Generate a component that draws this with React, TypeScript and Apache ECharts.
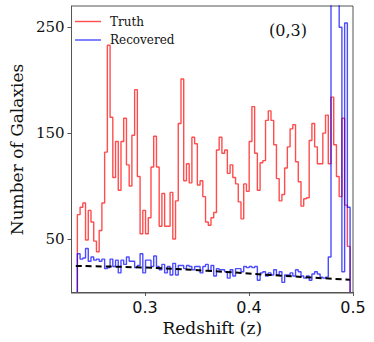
import React, { useEffect, useRef } from "react";
import * as echarts from "echarts";

const binStart = 0.235;
const binWidth = 0.002622;

const truthCounts = [
  73, 80, 84, 49, 77, 66, 48, 38, 58, 84,
  132, 233, 165, 108, 142, 96, 142, 164, 120, 100,
  148, 191, 109, 55, 77, 55, 70, 118, 147, 118,
  62, 93, 62, 62, 94, 50, 86, 159, 201, 105,
  121, 103, 146, 140, 101, 105, 90, 66, 63, 70,
  75, 134, 146, 131, 134, 112, 120, 108, 102, 85,
  69, 102, 95, 142, 175, 131, 96, 122, 124, 162,
  171, 162, 139, 107, 86, 92, 117, 137, 154, 158,
  123, 104, 81, 88, 89, 143, 159, 137, 121, 121,
  150, 167, 121, 184, 139, 109, 90, 164, 82, 43,
];

const recoveredCounts = [
  36, 31, 32, 41, 29, 33, 30, 31, 29, 31,
  22, 23, 31, 24, 30, 18, 30, 26, 33, 29,
  29, 23, 25, 36, 18, 30, 30, 24, 34, 24,
  21, 26, 18, 24, 16, 27, 16, 25, 25, 22,
  25, 24, 21, 24, 24, 18, 24, 26, 20, 25,
  15, 22, 21, 21, 19, 13, 21, 15, 22, 22,
  19, 24, 23, 24, 23, 24, 11, 18, 19, 15,
  18, 16, 21, 16, 19, 9, 16, 16, 18, 15,
  21, 19, 15, 13, 15, 11, 17, 19, 17, 14,
  13, 14, 33, 300, 300, 300, 250, 19, 254, 80,
];

const fitX = [0.2335, 0.3, 0.36, 0.42, 0.497];
const fitY = [24.5, 23.0, 20.0, 16.0, 11.5];

const xTicks = [0.3, 0.4, 0.5];
const yTicks = [50, 150, 250];

const FONT = "DejaVu Serif";
const SANS = "DejaVu Sans";

function stepData(counts: number[]) {
  const pts: number[][] = [[binStart, 0]];
  counts.forEach((c, i) => pts.push([binStart + i * binWidth, c]));
  pts.push([binStart + counts.length * binWidth, 0]);
  return pts;
}

export default function App() {
  const ref = useRef<HTMLDivElement>(null);
  useEffect(() => {
    if (!ref.current) return;
    const chart = echarts.init(ref.current, undefined, { renderer: "svg" });
    const axisColor = "#555";
    chart.setOption({
      animation: false,
      grid: {
        left: 65,
        right: 21,
        top: 6,
        bottom: 49,
        show: true,
        borderColor: axisColor,
        borderWidth: 1,
      },
      xAxis: {
        type: "value",
        min: 0.2294,
        max: 0.5,
        axisLine: { show: true, lineStyle: { color: axisColor } },
        axisTick: {
          show: true,
          length: 4,
          customValues: xTicks,
          lineStyle: { color: axisColor },
        },
        axisLabel: {
          customValues: xTicks,
          formatter: (v: number) => v.toFixed(1),
          fontFamily: SANS,
          fontSize: 16,
          color: "#111",
          margin: 6,
        },
        splitLine: { show: false },
        name: "Redshift (z)",
        nameLocation: "middle",
        nameGap: 24,
        nameTextStyle: { fontFamily: FONT, fontSize: 17, color: "#111" },
      },
      yAxis: {
        type: "value",
        min: -1,
        max: 270,
        axisLine: { show: true, lineStyle: { color: axisColor } },
        axisTick: {
          show: true,
          length: 4,
          customValues: yTicks,
          lineStyle: { color: axisColor },
        },
        axisLabel: {
          customValues: yTicks,
          fontFamily: FONT,
          fontSize: 15,
          color: "#111",
          margin: 7,
        },
        splitLine: { show: false },
        name: "Number of Galaxies",
        nameLocation: "middle",
        nameGap: 42,
        nameTextStyle: { fontFamily: FONT, fontSize: 17, color: "#111" },
      },
      series: [
        {
          name: "Truth",
          type: "line",
          step: "end",
          data: stepData(truthCounts),
          showSymbol: false,
          lineStyle: { color: "rgba(255,0,0,0.7)", width: 1.4 },
          clip: true,
        },
        {
          name: "Recovered",
          type: "line",
          step: "end",
          data: stepData(recoveredCounts),
          showSymbol: false,
          lineStyle: { color: "rgba(0,0,255,0.7)", width: 1.4 },
          clip: true,
        },
        {
          name: "fit",
          type: "line",
          data: fitX.map((x, i) => [x, fitY[i]]),
          showSymbol: false,
          smooth: true,
          lineStyle: { color: "#000", width: 2, type: [6, 4] },
          clip: true,
        },
      ],
      graphic: [
        { type: "line", shape: { x1: 75, y1: 21.5, x2: 101, y2: 21.5 }, style: { stroke: "rgba(255,0,0,0.7)", lineWidth: 1.4 } },
        { type: "text", x: 110, y: 21.5, style: { text: "Truth", fontFamily: FONT, fontSize: 12, fill: "#111", verticalAlign: "middle" } },
        { type: "line", shape: { x1: 75, y1: 40, x2: 101, y2: 40 }, style: { stroke: "rgba(0,0,255,0.7)", lineWidth: 1.4 } },
        { type: "text", x: 110, y: 40, style: { text: "Recovered", fontFamily: FONT, fontSize: 12, fill: "#111", verticalAlign: "middle" } },
        { type: "text", x: 288, y: 30, style: { text: "(0,3)", fontFamily: FONT, fontSize: 16, fill: "#111", align: "center", verticalAlign: "middle" } },
      ],
    });
    return () => chart.dispose();
  }, []);
  return (
    <div
      ref={ref}
      style={{ position: "fixed", left: 0, top: 0, width: 374, height: 342, background: "#fff" }}
    />
  );
}
